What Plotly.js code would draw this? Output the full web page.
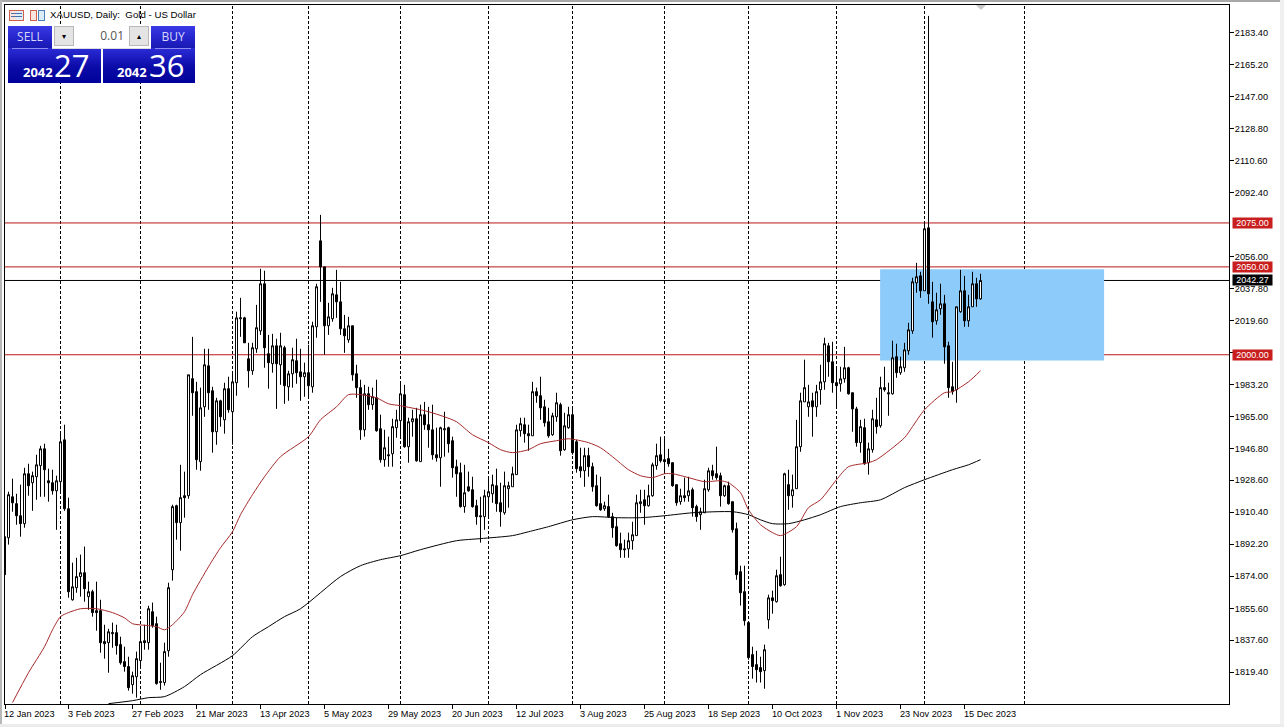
<!DOCTYPE html>
<html>
<head>
<meta charset="utf-8">
<script src="https://cdn.plot.ly/plotly-3.0.1.min.js"></script>
<style>
html,body{margin:0;padding:0;width:1284px;height:727px;overflow:hidden;background:#fff}
#chart{position:absolute;left:0;top:0;width:1284px;height:727px}
.o{position:absolute;font-family:"Open Sans","Noto Sans",sans-serif;box-sizing:border-box}
.blue{background:linear-gradient(#3a3ae6,#2222c8 60%,#1818b0);color:#d8d8f8}
.deep{background:linear-gradient(#2c2cd8,#0b0ba8 55%,#00009a);color:#fff}
</style>
</head>
<body>
<div id="chart"></div>
<div class="o" style="left:0;top:0;width:1284px;height:2px;background:#a8a8a8"></div>
<div class="o" style="left:0;top:0;width:2px;height:727px;background:#b8b8b8"></div>
<div class="o" style="left:1280px;top:0;width:4px;height:727px;background:#f0f0f0"></div>
<div class="o" style="left:0;top:724px;width:1284px;height:3px;background:#ececec"></div>
<div class="o" style="left:976px;top:5px;width:0;height:0;border-left:5px solid transparent;border-right:5px solid transparent;border-top:5px solid #c8c8c8"></div>

<div class="o" style="left:9px;top:10px;width:15px;height:11px;border:1px solid #d0604c;background:linear-gradient(90deg,#fbe4de 47%,#dcecf8 47%)"></div>
<div class="o" style="left:11px;top:13px;width:11px;height:1px;background:#4a6fa8"></div>
<div class="o" style="left:11px;top:16px;width:11px;height:1px;background:#4a6fa8"></div>
<div class="o" style="left:30px;top:10px;width:7px;height:11px;border:1px solid #d0604c;background:#fbe4de"></div>
<div class="o" style="left:38px;top:10px;width:7px;height:11px;border:1px solid #4a80b8;background:#dcecf8"></div>

<div class="o blue" style="left:8px;top:26px;width:44px;height:23px;font-size:12px;text-align:center;line-height:21px">SELL</div>
<div class="o blue" style="left:151px;top:26px;width:44px;height:23px;font-size:12px;text-align:center;line-height:21px">BUY</div>
<div class="o deep" style="left:8px;top:48px;width:93px;height:35px"></div>
<div class="o deep" style="left:103px;top:48px;width:92px;height:35px"></div>
<div class="o" style="left:12px;top:47.5px;width:36px;height:1px;background:#8a8af0"></div>
<div class="o" style="left:155px;top:47.5px;width:36px;height:1px;background:#8a8af0"></div>
<div class="o" style="left:52px;top:26px;width:99px;height:23px;background:#fff;border-bottom:1px solid #ddd"></div>
<div class="o" style="left:54px;top:26px;width:20px;height:20px;background:#e4e4e4;border:1px solid #b8b8b8;font-size:8px;text-align:center;line-height:18px;color:#000">&#9662;</div>
<div class="o" style="left:129px;top:26px;width:20px;height:20px;background:#e4e4e4;border:1px solid #b8b8b8;font-size:8px;text-align:center;line-height:18px;color:#000">&#9652;</div>
<div class="o" style="left:74px;top:26px;width:50px;height:20px;font-size:12px;text-align:right;line-height:19px;color:#555">0.01</div>
<div class="o" style="left:23px;top:64px;font-size:13px;font-weight:700;line-height:16px;color:#fff">2042</div>
<div class="o" style="left:54px;top:46px;font-size:31px;line-height:38px;color:#fff">27</div>
<div class="o" style="left:117px;top:64px;font-size:13px;font-weight:700;line-height:16px;color:#fff">2042</div>
<div class="o" style="left:149px;top:46px;font-size:31px;line-height:38px;color:#fff">36</div>

<script>
var opens=[1896.5,1895.9,1919.2,1915.3,1908.4,1903.9,1932.3,1927.2,1930.6,1936.9,
1946.5,1928.3,1927.2,1922.6,1927.8,1951.6,1912.4,1860.6,1867.5,1873.8,
1876.0,1862.4,1865.2,1854.4,1854.4,1836.8,1836.2,1841.3,1841.9,1835.1,
1825.4,1822.6,1812.3,1816.8,1826.0,1837.3,1836.2,1853.8,1847.0,1813.5,
1813.5,1831.6,1877.7,1914.1,1904.5,1919.8,1919.8,1986.4,1979.0,1939.2,
1970.4,1993.7,1979.5,1956.2,1973.8,1963.0,1980.7,1967.6,1984.1,2020.5,
2021.0,1997.7,1990.9,2003.4,2013.6,2040.4,2000.6,1994.9,2005.1,1994.3,
2004.0,1981.8,1989.2,1996.6,1990.3,1987.5,1989.8,1981.8,2015.9,2064.8,
2050.0,2016.5,2020.5,2034.1,2030.1,2014.8,2008.5,2016.5,1989.2,1981.3,
1957.3,1977.8,1971.6,1975.5,1957.9,1940.3,1943.1,1943.7,1958.5,1962.5,
1977.3,1947.7,1961.9,1963.6,1939.2,1965.9,1960.2,1957.3,1943.1,1941.4,
1957.3,1958.5,1951.1,1936.3,1932.9,1913.6,1924.9,1923.2,1914.1,1908.4,
1907.9,1919.2,1920.9,1925.5,1915.8,1910.1,1923.8,1924.9,1931.8,1956.8,
1960.2,1955.1,1953.9,1979.0,1976.7,1970.4,1961.9,1954.5,1964.7,1971.6,
1946.0,1958.5,1965.9,1950.5,1936.3,1934.0,1942.6,1936.3,1925.5,1915.3,
1912.4,1913.6,1907.9,1902.2,1892.5,1889.6,1889.6,1894.2,1897.1,1915.3,
1917.5,1914.1,1919.8,1936.9,1943.1,1940.3,1940.9,1938.6,1926.1,1916.4,
1919.8,1919.8,1923.2,1913.6,1909.0,1910.1,1923.2,1934.0,1932.3,1931.2,
1919.8,1925.5,1916.4,1901.0,1876.6,1865.2,1847.6,1829.4,1823.7,1822.0,
1820.3,1849.2,1861.7,1859.5,1874.9,1869.2,1926.1,1919.8,1923.8,1947.7,
1973.2,1970.4,1973.8,1970.4,1980.1,1984.6,2005.1,1996.0,1984.1,1983.5,
1986.3,1992.6,1978.4,1969.2,1950.0,1958.5,1938.6,1946.0,1963.0,1959.6,
1981.3,1978.4,1977.8,1998.9,1989.8,1992.6,2002.3,2013.6,2040.9,2044.9,
2036.4,2072.2,2030.1,2019.3,2026.2,2029.0,2005.1,1981.8,1980.1,2024.5,
2036.4,2019.3,2027.3,2040.4,2031.8];
var highs=[1896.5,1922.1,1929.5,1920.9,1926.1,1935.7,1938.0,1933.5,1943.1,1948.2,
1949.4,1935.2,1934.6,1931.2,1955.1,1960.2,1918.7,1881.7,1884.5,1886.3,
1890.9,1870.9,1866.3,1870.9,1860.6,1846.4,1844.1,1847.6,1846.4,1839.6,
1833.9,1828.2,1819.7,1831.1,1844.7,1846.4,1857.2,1859.0,1851.0,1824.8,
1836.2,1870.3,1914.7,1914.7,1937.4,1933.5,1988.6,2010.2,1984.6,1981.3,
2003.4,2003.4,1981.8,1975.5,1974.4,1984.1,1987.5,1989.8,2024.5,2032.4,
2021.6,2006.8,2006.8,2028.4,2048.9,2047.8,2011.3,2011.9,2009.1,2012.5,
2005.1,1990.9,2004.0,2009.1,2003.4,1995.5,2005.7,2018.8,2040.4,2079.6,
2050.0,2029.6,2038.1,2048.3,2041.5,2022.7,2021.6,2016.5,1994.3,1985.8,
1982.9,1981.8,1981.3,1985.8,1965.9,1957.3,1953.4,1963.6,1968.7,1984.1,
1982.9,1964.2,1968.7,1969.8,1971.6,1973.2,1970.4,1971.6,1958.5,1959.1,
1967.6,1959.1,1953.4,1940.3,1938.6,1937.4,1933.5,1930.6,1917.5,1919.2,
1923.2,1930.6,1931.8,1935.2,1927.2,1933.5,1927.8,1936.3,1960.2,1964.2,
1964.2,1960.2,1984.6,1981.3,1987.5,1974.4,1969.8,1967.0,1978.4,1972.7,
1967.0,1970.4,1970.4,1951.6,1947.1,1947.1,1947.1,1938.6,1931.8,1930.6,
1916.4,1920.4,1910.1,1907.3,1898.8,1894.8,1898.8,1905.0,1920.4,1923.2,
1923.2,1926.1,1938.6,1949.4,1953.4,1953.4,1946.5,1938.6,1926.1,1923.8,
1930.1,1930.6,1924.4,1914.7,1913.0,1928.9,1935.7,1937.4,1947.7,1932.9,
1926.1,1927.8,1916.4,1904.5,1880.0,1880.0,1847.6,1833.9,1831.6,1828.2,
1835.1,1863.5,1865.8,1877.7,1885.1,1932.9,1934.6,1931.8,1963.0,1978.4,
1997.2,1982.9,1978.4,1982.9,1994.3,2009.7,2006.8,2007.4,1993.2,1993.2,
2004.5,1993.2,1978.4,1970.4,1963.0,1963.6,1950.0,1968.7,1975.5,1987.5,
1993.2,1984.1,2008.0,2006.3,1998.9,2006.8,2018.2,2043.8,2052.3,2047.2,
2075.6,2192.8,2041.5,2035.3,2040.4,2034.1,2007.4,1996.0,2027.3,2048.3,
2044.9,2034.1,2047.2,2043.8,2046.1];
var lows=[1874.9,1892.0,1910.7,1903.3,1896.5,1901.6,1919.8,1911.2,1917.5,1919.2,
1919.2,1916.4,1920.4,1900.4,1922.1,1911.2,1861.8,1860.1,1864.6,1862.4,
1859.5,1854.9,1851.0,1843.0,1830.5,1827.1,1819.1,1833.3,1829.4,1823.7,
1819.7,1808.9,1807.2,1804.9,1822.6,1832.2,1832.2,1844.7,1812.3,1809.4,
1811.8,1828.2,1871.5,1894.8,1888.5,1907.3,1918.1,1965.3,1934.6,1934.0,
1964.7,1968.7,1944.3,1948.8,1959.1,1955.1,1967.0,1948.8,1976.7,2010.2,
2006.8,1981.3,1988.6,2001.1,2011.3,1992.6,1980.7,1989.8,1969.2,1982.9,
1972.1,1973.8,1981.3,1983.5,1973.8,1976.1,1976.1,1978.4,2009.7,2030.1,
2000.0,2011.3,2018.8,2021.0,2011.3,2001.1,2006.8,1985.2,1975.5,1951.6,
1953.4,1968.7,1968.7,1956.2,1938.6,1936.3,1936.3,1936.3,1952.8,1953.4,
1947.1,1938.6,1953.4,1939.2,1939.2,1957.3,1947.1,1940.3,1939.2,1924.9,
1942.0,1944.3,1930.1,1919.2,1913.0,1910.1,1922.1,1913.0,1903.3,1893.1,
1900.4,1907.9,1915.8,1910.7,1902.2,1909.0,1913.0,1924.9,1931.8,1953.4,
1950.0,1945.4,1953.9,1972.7,1963.0,1959.1,1952.8,1953.9,1961.9,1942.6,
1945.4,1957.9,1943.1,1932.9,1930.1,1924.9,1930.6,1922.1,1913.6,1911.2,
1911.2,1907.3,1895.9,1890.8,1884.5,1884.5,1884.5,1889.1,1897.1,1910.1,
1903.3,1913.6,1919.2,1934.6,1938.6,1932.9,1936.3,1924.9,1914.1,1914.7,
1916.4,1916.4,1907.9,1905.0,1900.4,1910.1,1922.1,1928.9,1928.9,1913.6,
1919.2,1914.7,1898.8,1872.0,1857.3,1845.9,1826.5,1815.7,1813.5,1813.5,
1810.0,1844.1,1852.7,1859.0,1868.0,1868.6,1911.8,1913.0,1923.8,1944.8,
1973.2,1964.7,1953.4,1964.7,1971.6,1980.1,1987.5,1978.4,1969.8,1979.0,
1984.1,1977.3,1956.2,1947.7,1944.3,1937.4,1931.8,1944.3,1955.1,1958.5,
1979.0,1965.3,1977.3,1986.9,1988.6,1990.3,2000.0,2011.9,2035.3,2032.4,
2036.4,2029.0,2009.7,2017.1,2022.7,1994.9,1975.5,1977.3,1972.7,2023.9,
2015.9,2015.9,2027.3,2027.3,2031.3];
var closes=[1874.9,1920.4,1915.8,1908.4,1903.9,1932.3,1925.5,1931.2,1937.4,1946.5,
1934.6,1927.2,1922.6,1928.3,1950.5,1912.4,1865.2,1868.0,1873.8,1876.0,
1866.9,1865.2,1853.3,1853.3,1836.2,1835.6,1842.4,1841.9,1834.5,1824.8,
1822.6,1810.6,1817.4,1827.1,1836.8,1836.2,1855.5,1845.9,1812.9,1814.0,
1831.1,1867.5,1913.6,1904.5,1918.7,1918.7,1988.6,1978.4,1940.3,1969.8,
1994.3,1978.4,1956.2,1973.8,1964.7,1980.7,1968.7,1984.6,2021.0,2021.0,
2006.8,1990.9,2004.0,2015.4,2040.4,2004.0,1995.5,2005.1,1994.9,2005.1,
1982.4,1989.2,1997.2,1989.8,1987.5,1989.8,1982.4,2016.5,2038.7,2050.0,
2016.5,2021.6,2034.7,2030.1,2014.8,2010.8,2016.5,1988.6,1981.3,1957.3,
1977.8,1971.6,1976.1,1956.8,1940.3,1947.1,1942.6,1959.1,1963.0,1977.8,
1947.7,1961.9,1963.6,1939.7,1965.9,1960.2,1957.3,1943.1,1941.4,1958.5,
1957.9,1949.4,1935.7,1932.3,1913.6,1921.5,1922.6,1913.6,1907.9,1907.9,
1919.8,1922.1,1926.1,1915.3,1910.7,1925.5,1925.5,1932.3,1957.3,1960.8,
1955.1,1953.9,1979.0,1976.7,1969.8,1961.3,1953.9,1965.3,1972.7,1945.4,
1959.6,1965.9,1944.3,1935.2,1934.0,1942.6,1936.3,1924.9,1914.1,1911.8,
1914.1,1907.9,1901.6,1891.4,1889.1,1889.1,1894.2,1897.6,1915.8,1916.4,
1914.1,1919.8,1937.4,1942.6,1939.7,1939.2,1938.0,1925.5,1915.8,1919.8,
1918.7,1922.6,1913.0,1907.9,1910.7,1923.8,1934.0,1931.2,1930.1,1919.8,
1925.5,1915.3,1900.4,1874.9,1864.6,1848.7,1827.7,1822.6,1820.8,1819.7,
1832.2,1861.7,1860.1,1874.3,1868.6,1932.3,1919.8,1923.2,1947.7,1973.8,
1981.3,1973.2,1970.4,1979.0,1984.6,2006.3,1996.0,1984.1,1982.4,1986.3,
1992.6,1977.8,1969.2,1950.0,1959.1,1938.0,1946.5,1963.6,1959.1,1981.3,
1980.1,1977.8,1998.3,1989.8,1993.2,2002.8,2014.2,2041.5,2044.4,2036.4,
2071.7,2034.7,2018.8,2025.6,2029.0,2004.5,1981.3,1979.0,2027.3,2036.4,
2019.3,2027.3,2040.4,2031.8,2042.27];

var maFastBars=[2,6,10,12,14,16,19,23,27,30,32,36,38,40,42,45,47,51,54,57,59,62,65,69,76,79,83,86,89,93,96,99,103,106,110,113,117,121,124,127,131,134,138,141,146,149,152,156,159,162,165,167,171,175,179,181,184,186,189,192,194,198,201,204,208,211,216,218,225,227,230,235,237,241,244];
var maFast=[1802.1,1819.1,1833.9,1843.5,1851.0,1853.3,1855.5,1855.5,1853.3,1850.3,1847.0,1845.9,1845.3,1843.5,1846.4,1853.8,1863.5,1879.4,1890.2,1899.3,1909.0,1920.4,1930.6,1942.0,1953.4,1963.0,1970.4,1977.3,1977.3,1975.5,1972.1,1971.0,1969.2,1967.6,1964.7,1961.9,1954.5,1950.0,1946.0,1944.3,1946.0,1949.4,1951.1,1952.2,1950.0,1947.1,1942.0,1934.6,1931.2,1930.1,1932.3,1932.3,1930.1,1927.8,1928.3,1927.2,1921.5,1911.8,1903.3,1898.8,1897.1,1902.2,1913.0,1917.5,1928.9,1936.3,1938.6,1940.3,1952.8,1959.1,1968.7,1978.4,1979.0,1984.6,1990.9];
var maSlowBars=[26,32,36,40,45,49,57,62,66,70,74,84,89,94,99,104,113,119,127,131,136,142,147,153,159,165,172,182,186,189,192,196,200,204,209,214,219,225,230,237,241,244];
var maSlow=[1801.5,1803.2,1804.9,1805.5,1811.2,1818.0,1828.8,1839.6,1845.3,1851.0,1855.5,1873.8,1880.0,1883.4,1885.7,1889.1,1894.2,1895.4,1897.1,1899.3,1902.2,1906.1,1907.9,1907.3,1907.3,1908.4,1910.1,1910.7,1909.0,1906.1,1903.9,1903.9,1906.1,1909.0,1913.6,1915.8,1917.5,1924.4,1928.9,1934.6,1937.4,1940.3];

var redLevels=[2075,2050,2000];
var redLabels=["2075.00","2050.00","2000.00"];
var lastPrice=2042.27;
var lastLabel="2042.27";
var periodBars=[14,34,57,76,99,121,142,165,186,208,230,255];
var dateBars=[0,16,32,48,64,80,96,112,128,144,160,176,192,208,224,240];
var dateLabels=["12 Jan 2023","3 Feb 2023","27 Feb 2023","21 Mar 2023","13 Apr 2023","5 May 2023","29 May 2023","20 Jun 2023","12 Jul 2023","3 Aug 2023","25 Aug 2023","18 Sep 2023","10 Oct 2023","1 Nov 2023","23 Nov 2023","15 Dec 2023"];
var priceTicks=[2183.40,2165.20,2147.00,2128.80,2110.60,2092.40,2056.00,2037.80,2019.60,2001.40,1983.20,1965.00,1946.80,1928.60,1910.40,1892.20,1874.00,1855.60,1837.60,1819.40];
var zoneBars=[218.9,274.9];
var zonePrices=[1996.8,2048.7];

var FONT='"Liberation Sans",sans-serif';
var bars=opens.map(function(_,i){return i;});
var xStart=0.125,xEnd=306.125;
var tickBars=dateBars.map(function(b){return Math.max(b,xStart);});

var traces=[
 {type:'candlestick',x:bars,open:opens,high:highs,low:lows,close:closes,
  increasing:{line:{color:'#000',width:1},fillcolor:'#fff'},
  decreasing:{line:{color:'#000',width:1},fillcolor:'#000'},
  whiskerwidth:0,hoverinfo:'skip',showlegend:false},
 {type:'scatter',mode:'lines',x:maSlowBars,y:maSlow,line:{color:'#000',width:1,shape:'spline',smoothing:0.7},hoverinfo:'skip',showlegend:false},
 {type:'scatter',mode:'lines',x:maFastBars,y:maFast,line:{color:'#a52a2a',width:1,shape:'spline',smoothing:0.7},hoverinfo:'skip',showlegend:false}
];

var shapes=[{type:'rect',layer:'below',xref:'x',yref:'y',x0:zoneBars[0],x1:zoneBars[1],y0:zonePrices[0],y1:zonePrices[1],fillcolor:'#8ccbfa',line:{width:0}}];
periodBars.forEach(function(b){shapes.push({type:'line',layer:'below',xref:'x',yref:'paper',x0:b,x1:b,y0:0,y1:1,line:{color:'#000',width:1,dash:'3px,2px'}});});
redLevels.forEach(function(v){shapes.push({type:'line',layer:'below',xref:'paper',yref:'y',x0:0,x1:1,y0:v,y1:v,line:{color:'#b81818',width:1}});});
shapes.push({type:'line',layer:'below',xref:'paper',yref:'y',x0:0,x1:1,y0:lastPrice,y1:lastPrice,line:{color:'#000',width:1}});

var annotations=[];
tickBars.forEach(function(b,i){annotations.push({xref:'x',yref:'paper',x:b,y:0,yshift:-3.5,xshift:-2,xanchor:'left',yanchor:'top',showarrow:false,text:dateLabels[i],font:{family:FONT,size:9.2,color:'#000'},borderpad:0});});
function tag(v,t,bg){annotations.push({xref:'paper',yref:'y',x:1,xshift:3,y:v,xanchor:'left',yanchor:'middle',showarrow:false,text:t,font:{family:FONT,size:9,color:'#fff'},bgcolor:bg,width:39,height:10,borderpad:0,align:'center'});}
redLevels.forEach(function(v,i){tag(v,redLabels[i],'#c81e1e');});
tag(lastPrice,lastLabel,'#000');

var layout={
 width:1284,height:727,
 paper_bgcolor:'#fff',plot_bgcolor:'#fff',
 margin:{l:5,r:55,t:5,b:23,pad:0},
 showlegend:false,dragmode:false,
 boxgap:0.5,boxgroupgap:0,
 title:{text:'XAUUSD, Daily:  Gold - US Dollar',x:50/1284,xanchor:'left',xref:'container',y:1-15/727,yanchor:'middle',yref:'container',font:{family:FONT,size:9.7,color:'#000'}},
 xaxis:{type:'linear',range:[xStart,xEnd],rangeslider:{visible:false},showgrid:false,zeroline:false,showline:true,mirror:true,linecolor:'#000',linewidth:1,
   tickmode:'array',tickvals:tickBars,ticktext:dateLabels.map(function(){return '';}),ticks:'outside',ticklen:4,tickcolor:'#000',tickwidth:1,showticklabels:false},
 yaxis:{side:'right',range:[1801.3,2199.0],showgrid:false,zeroline:false,showline:true,mirror:true,linecolor:'#000',linewidth:1,
   tickmode:'array',tickvals:priceTicks,ticktext:priceTicks.map(function(v){return v.toFixed(2);}),ticks:'outside',ticklen:4,tickcolor:'#000',tickwidth:1,ticklabelstandoff:-1,tickfont:{family:FONT,size:9.2,color:'#000'}},
 shapes:shapes,annotations:annotations
};
Plotly.newPlot('chart',traces,layout,{staticPlot:true,displayModeBar:false});
</script>
</body>
</html>
